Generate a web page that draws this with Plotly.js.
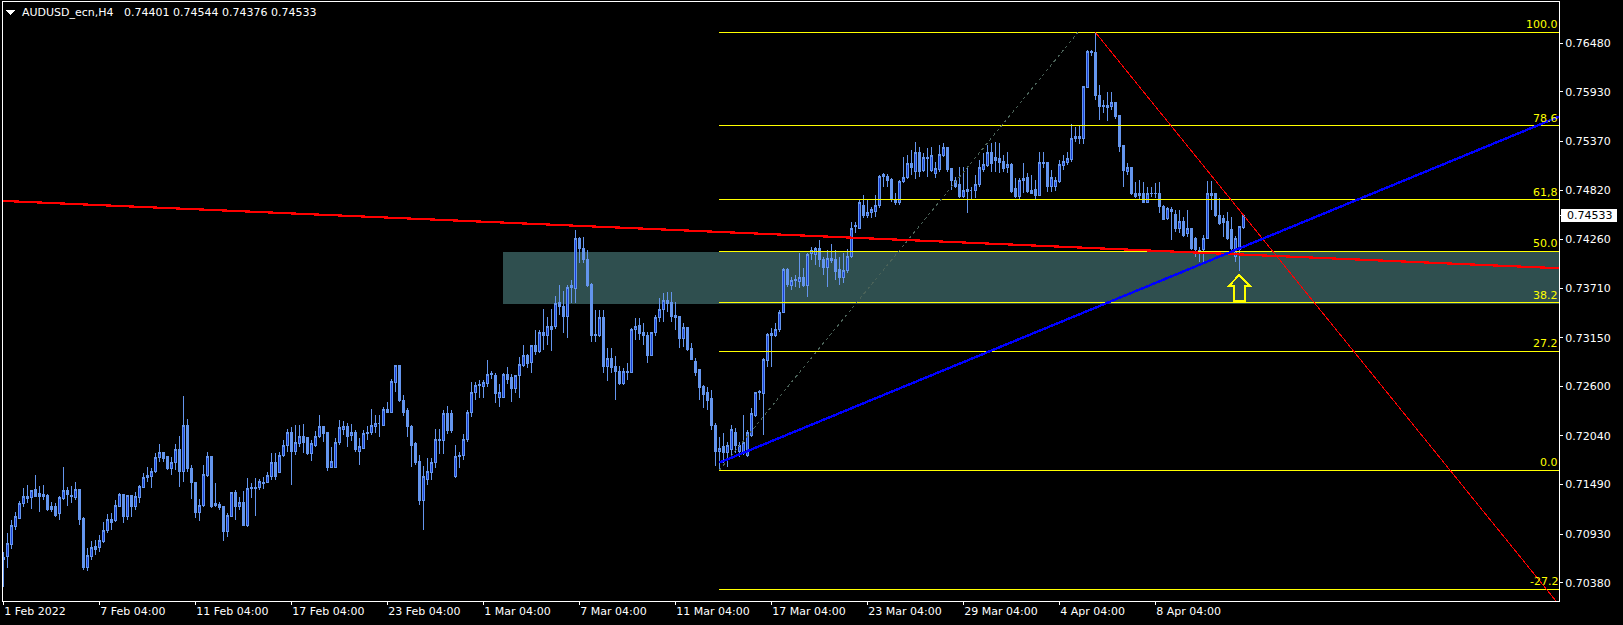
<!DOCTYPE html>
<html><head><meta charset="utf-8">
<script src="https://cdn.plot.ly/plotly-3.0.1.min.js"></script>
<style>html,body{margin:0;padding:0;background:#000;}#chart{width:1623px;height:625px;}
#chart .cartesianlayer path, #chart .layer-below path, #chart .layer-above path { shape-rendering: crispEdges; }
</style>
</head><body><div id="chart"></div>
<script>
const symbolTitle = "AUDUSD_ecn,H4";

const opens = [
0.70637,0.70671,0.70807,0.71021,0.71111,0.71281,0.71327,0.71339,0.71429,0.71384,
0.71372,0.71361,0.71247,0.71247,0.71157,0.71327,0.71418,0.71361,0.71339,0.71429,
0.71111,0.70547,0.70671,0.70784,0.70773,0.70841,0.70965,0.71100,0.71078,0.71247,
0.71372,0.71123,0.71361,0.71247,0.71339,0.71452,0.71587,0.71576,0.71632,0.71791,
0.71847,0.71802,0.71666,0.71734,0.71881,0.71632,0.72163,0.71666,0.71508,0.71179,
0.71258,0.71587,0.71802,0.71281,0.71270,0.71247,0.70954,0.71134,0.71395,0.71247,
0.71292,0.71032,0.71440,0.71452,0.71452,0.71508,0.71508,0.71576,0.71734,0.71621,
0.71813,0.71926,0.72073,0.71859,0.71949,0.72028,0.72017,0.71836,0.71937,0.72028,
0.72152,0.72073,0.71678,0.71678,0.71971,0.72118,0.72152,0.72050,0.72073,0.71859,
0.71903,0.72062,0.72073,0.72152,0.72186,0.72163,0.72344,0.72310,0.72639,0.72831,
0.72446,0.72333,0.72152,0.71949,0.71746,0.71315,0.71542,0.71621,0.71734,0.71983,
0.71983,0.72299,0.72288,0.71576,0.71802,0.71813,0.71994,0.72310,0.72526,0.72605,
0.72594,0.72628,0.72730,0.72718,0.72480,0.72480,0.72730,0.72696,0.72571,0.72718,
0.72831,0.72944,0.72865,0.73057,0.72990,0.73204,0.73170,0.73272,0.73272,0.73554,
0.73509,0.73385,0.73724,0.73702,0.74267,0.74154,0.74030,0.73747,0.73182,0.73170,
0.73374,0.72820,0.72911,0.72820,0.72763,0.72628,0.72763,0.72752,0.73249,0.73283,
0.73204,0.73170,0.72944,0.73204,0.73374,0.73475,0.73566,0.73554,0.73407,0.73385,
0.73136,0.73261,0.73023,0.72877,0.72786,0.72594,0.72526,0.72458,0.72163,0.71859,
0.71915,0.71847,0.71881,0.72084,0.71859,0.71847,0.71824,0.72050,0.72276,0.72526,
0.72514,0.72888,0.73170,0.73170,0.73238,0.73441,0.73917,0.73736,0.73792,0.73781,
0.73826,0.73736,0.74098,0.74086,0.74165,0.74030,0.73939,0.74041,0.74030,0.73917,
0.73826,0.73905,0.74064,0.74403,0.74391,0.74651,0.74527,0.74561,0.74583,0.74651,
0.74979,0.74979,0.74935,0.74708,0.74674,0.74912,0.74968,0.75116,0.75025,0.75240,
0.75036,0.75183,0.75036,0.75013,0.75048,0.75206,0.75296,0.75059,0.74923,0.74878,
0.74742,0.74822,0.74810,0.74810,0.74878,0.75048,0.75093,0.75240,0.75183,0.75172,
0.75138,0.75070,0.75104,0.74833,0.74753,0.74946,0.74957,0.74810,0.74822,0.74764,
0.75127,0.75127,0.74855,0.74855,0.74912,0.75093,0.75127,0.75161,0.75398,0.75409,
0.75409,0.75975,0.76371,0.76371,0.75895,0.75782,0.75749,0.75760,0.75816,0.75658,
0.75319,0.75025,0.75070,0.74787,0.74787,0.74787,0.74685,0.74787,0.74776,0.74787,
0.74629,0.74504,0.74606,0.74549,0.74380,0.74470,0.74324,0.74380,0.74278,0.74132,
0.74143,0.74278,0.74787,0.74776,0.74538,0.74504,0.74470,0.74369,0.74064,0.74143,
0.74401];

const highs = [
0.70727,0.70942,0.71089,0.71179,0.71304,0.71451,0.71486,0.71429,0.71599,0.71474,
0.71486,0.71384,0.71292,0.71281,0.71361,0.71689,0.71463,0.71474,0.71520,0.71440,
0.71123,0.70773,0.70852,0.70863,0.70920,0.71066,0.71157,0.71168,0.71315,0.71395,
0.71384,0.71372,0.71372,0.71406,0.71486,0.71621,0.71689,0.71678,0.71847,0.71949,
0.71859,0.71802,0.71802,0.71949,0.72039,0.72491,0.72231,0.71711,0.71520,0.71327,
0.71711,0.71859,0.71802,0.71508,0.71292,0.71247,0.71168,0.71406,0.71429,0.71350,
0.71418,0.71565,0.71508,0.71565,0.71553,0.71576,0.71632,0.71847,0.71847,0.71859,
0.71994,0.72118,0.72140,0.72163,0.72163,0.72175,0.72028,0.71994,0.72096,0.72276,
0.72152,0.72084,0.71915,0.72017,0.72220,0.72209,0.72186,0.72175,0.72107,0.72017,
0.72107,0.72152,0.72344,0.72276,0.72276,0.72367,0.72423,0.72684,0.72843,0.72843,
0.72503,0.72356,0.72163,0.71971,0.71824,0.71700,0.71791,0.71791,0.72118,0.72118,
0.72333,0.72378,0.72333,0.71937,0.71859,0.72062,0.72333,0.72650,0.72650,0.72673,
0.72673,0.72899,0.72775,0.72752,0.72628,0.72752,0.72820,0.72741,0.72730,0.72933,
0.73069,0.72967,0.73069,0.73238,0.73238,0.73475,0.73385,0.73475,0.73622,0.73747,
0.73679,0.73747,0.73804,0.74369,0.74290,0.74290,0.74143,0.73770,0.73464,0.73464,
0.73464,0.73035,0.73035,0.72944,0.72831,0.72809,0.72865,0.73261,0.73374,0.73374,
0.73317,0.73216,0.73216,0.73407,0.73600,0.73656,0.73668,0.73668,0.73554,0.73385,
0.73317,0.73272,0.73091,0.72922,0.72797,0.72616,0.72594,0.72560,0.72186,0.72028,
0.72073,0.71971,0.72163,0.72130,0.71971,0.72276,0.72107,0.72356,0.72537,0.72560,
0.72922,0.73204,0.73261,0.73317,0.73464,0.73939,0.73939,0.73838,0.73860,0.74109,
0.73939,0.74109,0.74177,0.74177,0.74256,0.74064,0.74143,0.74211,0.74143,0.74064,
0.74109,0.74154,0.74459,0.74459,0.74719,0.74764,0.74708,0.74629,0.74764,0.74991,
0.75013,0.75002,0.74957,0.74787,0.74935,0.75195,0.75217,0.75274,0.75364,0.75308,
0.75240,0.75296,0.75308,0.75138,0.75330,0.75353,0.75308,0.75070,0.74968,0.75081,
0.75081,0.75081,0.74855,0.74991,0.75161,0.75240,0.75330,0.75353,0.75364,0.75353,
0.75217,0.75251,0.75127,0.74957,0.74957,0.75127,0.75013,0.74991,0.74935,0.75251,
0.75251,0.75138,0.75048,0.74968,0.75161,0.75217,0.75251,0.75567,0.75534,0.75556,
0.75997,0.76405,0.76405,0.76605,0.76009,0.75839,0.75929,0.75929,0.75816,0.75669,
0.75330,0.75127,0.75081,0.74912,0.74935,0.74912,0.74855,0.74855,0.74900,0.74912,
0.74651,0.74629,0.74629,0.74595,0.74595,0.74516,0.74595,0.74380,0.74290,0.74177,
0.74312,0.74923,0.74923,0.74787,0.74731,0.74538,0.74572,0.74516,0.74301,0.74403,
0.74544];

const lows = [
0.70332,0.70547,0.70761,0.70976,0.71100,0.71236,0.71281,0.71213,0.71350,0.71179,
0.71315,0.71191,0.71179,0.71123,0.71089,0.71315,0.71247,0.71281,0.71315,0.71032,
0.70524,0.70513,0.70637,0.70693,0.70727,0.70829,0.70942,0.70976,0.71066,0.71236,
0.71055,0.71089,0.71123,0.71202,0.71281,0.71452,0.71520,0.71452,0.71621,0.71746,
0.71746,0.71655,0.71599,0.71655,0.71463,0.71520,0.71632,0.71327,0.71111,0.71078,
0.71236,0.71576,0.71225,0.71236,0.71202,0.70852,0.70897,0.71123,0.71089,0.71202,
0.71032,0.71010,0.71339,0.71134,0.71429,0.71440,0.71508,0.71542,0.71542,0.71621,
0.71802,0.71859,0.71486,0.71824,0.71915,0.71847,0.71824,0.71757,0.71915,0.72017,
0.71971,0.71644,0.71678,0.71678,0.71937,0.72050,0.71915,0.71983,0.71859,0.71711,
0.71903,0.71994,0.72050,0.72073,0.72028,0.72163,0.72299,0.72299,0.72537,0.72423,
0.72265,0.72028,0.71689,0.71711,0.71258,0.70976,0.71486,0.71542,0.71678,0.71836,
0.71836,0.72062,0.72073,0.71565,0.71678,0.71768,0.71971,0.72254,0.72446,0.72469,
0.72469,0.72594,0.72684,0.72412,0.72367,0.72469,0.72628,0.72423,0.72526,0.72469,
0.72820,0.72809,0.72752,0.72956,0.72978,0.73012,0.73069,0.73001,0.73249,0.73407,
0.73204,0.73148,0.73543,0.73543,0.73996,0.73996,0.73724,0.73103,0.73103,0.73159,
0.72752,0.72662,0.72752,0.72446,0.72616,0.72616,0.72673,0.72752,0.73125,0.73125,
0.73069,0.72865,0.72944,0.73170,0.73328,0.73328,0.73441,0.73328,0.73238,0.73035,
0.73046,0.73001,0.72899,0.72718,0.72446,0.72356,0.72333,0.72107,0.71700,0.71651,
0.71734,0.71689,0.71802,0.71847,0.71802,0.71824,0.71802,0.72028,0.72254,0.72446,
0.72050,0.72820,0.72820,0.73159,0.73216,0.73430,0.73724,0.73691,0.73724,0.73713,
0.73724,0.73611,0.74030,0.73973,0.73951,0.73860,0.73724,0.73996,0.73804,0.73747,
0.73770,0.73883,0.74052,0.74335,0.74380,0.74504,0.74504,0.74504,0.74516,0.74617,
0.74855,0.74855,0.74685,0.74651,0.74651,0.74900,0.74946,0.74991,0.74946,0.74968,
0.75025,0.74968,0.75025,0.74957,0.75025,0.75195,0.75025,0.74822,0.74844,0.74731,
0.74731,0.74561,0.74708,0.74731,0.74855,0.75025,0.75081,0.75025,0.75025,0.75013,
0.75025,0.75013,0.74787,0.74731,0.74708,0.74787,0.74787,0.74776,0.74708,0.74753,
0.75070,0.74799,0.74799,0.74810,0.74900,0.75048,0.75104,0.75138,0.75364,0.75342,
0.75342,0.75975,0.76337,0.75839,0.75613,0.75692,0.75601,0.75726,0.75624,0.75251,
0.74855,0.74991,0.74764,0.74731,0.74708,0.74674,0.74674,0.74742,0.74731,0.74561,
0.74482,0.74482,0.74256,0.74346,0.74335,0.74290,0.74290,0.74143,0.74064,0.74007,
0.74007,0.74278,0.74595,0.74516,0.74425,0.74290,0.74256,0.74143,0.74007,0.73905,
0.74376];

const closes = [
0.70660,0.70818,0.71032,0.71123,0.71281,0.71350,0.71350,0.71418,0.71350,0.71350,
0.71350,0.71213,0.71213,0.71145,0.71339,0.71418,0.71372,0.71350,0.71429,0.71100,
0.70547,0.70682,0.70773,0.70750,0.70852,0.70965,0.71100,0.71066,0.71258,0.71372,
0.71123,0.71361,0.71247,0.71350,0.71463,0.71565,0.71565,0.71632,0.71791,0.71847,
0.71779,0.71666,0.71734,0.71881,0.71632,0.72163,0.71666,0.71508,0.71179,0.71258,
0.71599,0.71802,0.71247,0.71258,0.71225,0.70954,0.71145,0.71395,0.71247,0.71292,
0.71032,0.71440,0.71452,0.71440,0.71520,0.71497,0.71587,0.71734,0.71576,0.71824,
0.71937,0.72073,0.71859,0.71960,0.72028,0.71960,0.71836,0.71949,0.72028,0.72152,
0.72062,0.71678,0.71746,0.71971,0.72130,0.72152,0.72039,0.72073,0.71881,0.71915,
0.72062,0.72084,0.72163,0.72186,0.72186,0.72344,0.72310,0.72650,0.72831,0.72435,
0.72310,0.72141,0.71937,0.71734,0.71315,0.71576,0.71632,0.71734,0.71994,0.71994,
0.72299,0.72096,0.72096,0.71802,0.71824,0.72005,0.72310,0.72526,0.72605,0.72616,
0.72639,0.72730,0.72741,0.72514,0.72526,0.72730,0.72673,0.72571,0.72718,0.72843,
0.72944,0.72854,0.73057,0.72990,0.73204,0.73170,0.73272,0.73249,0.73543,0.73498,
0.73385,0.73724,0.73736,0.74267,0.74154,0.74030,0.73736,0.73170,0.73170,0.73374,
0.72820,0.72911,0.72809,0.72763,0.72628,0.72763,0.72752,0.73249,0.73272,0.73193,
0.73170,0.72944,0.73204,0.73374,0.73475,0.73566,0.73543,0.73396,0.73374,0.73136,
0.73261,0.73012,0.72899,0.72752,0.72582,0.72503,0.72446,0.72163,0.71859,0.71903,
0.71847,0.71926,0.72107,0.71937,0.71926,0.71971,0.72073,0.72299,0.72526,0.72537,
0.72899,0.73182,0.73193,0.73238,0.73441,0.73917,0.73747,0.73792,0.73804,0.73826,
0.73736,0.74086,0.74132,0.74165,0.74030,0.73939,0.74041,0.74019,0.73894,0.73826,
0.73905,0.74064,0.74391,0.74414,0.74674,0.74527,0.74572,0.74595,0.74651,0.74979,
0.74991,0.74923,0.74708,0.74674,0.74912,0.74968,0.75116,0.75070,0.75240,0.75025,
0.75183,0.75172,0.75206,0.75059,0.75217,0.75296,0.75048,0.74923,0.74866,0.74742,
0.74810,0.74799,0.74810,0.74878,0.75070,0.75104,0.75240,0.75116,0.75149,0.75127,
0.75059,0.75104,0.74799,0.74753,0.74923,0.74923,0.74799,0.74787,0.74764,0.75127,
0.75116,0.74855,0.74968,0.74923,0.75104,0.75138,0.75172,0.75398,0.75421,0.75421,
0.75986,0.76382,0.76382,0.75895,0.75760,0.75760,0.75782,0.75816,0.75647,0.75308,
0.75036,0.75070,0.74787,0.74753,0.74764,0.74685,0.74787,0.74776,0.74787,0.74629,
0.74493,0.74617,0.74583,0.74380,0.74470,0.74312,0.74380,0.74165,0.74143,0.74109,
0.74278,0.74787,0.74764,0.74538,0.74437,0.74448,0.74278,0.74154,0.74278,0.74403,
0.74533];

const tickBars = [0, 24, 48, 72, 96, 120, 144, 168, 192, 216, 240, 264, 288];
const tickLabels = ["1 Feb 2022","7 Feb 04:00","11 Feb 04:00","17 Feb 04:00","23 Feb 04:00",
  "1 Mar 04:00","7 Mar 04:00","11 Mar 04:00","17 Mar 04:00","23 Mar 04:00","29 Mar 04:00",
  "4 Apr 04:00","8 Apr 04:00"];
const priceTicks = ["0.76480","0.75930","0.75370","0.74820","0.74260","0.73710",
  "0.73150","0.72600","0.72040","0.71490","0.70930","0.70380"];

// Fibonacci retracement (anchors: low bar/price, high bar/price)
const fibLowBar = 179, fibLowPrice = 0.71651;
const fibHighBar = 268.7, fibHighPrice = 0.76605;
const fibLevels = [100, 78.6, 61.8, 50, 38.2, 27.2, 0, -27.2];
const fibLabels = ["100.0","78.6","61,8","50.0","38.2","27.2","0.0","-27.2"];

// Trend lines (two anchor points each: bar index, price)
const redTrendBars = [-1, 389];       const redTrendPrices = [0.74699, 0.73936];
const blueTrendBars = [179, 389];     const blueTrendPrices = [0.71737, 0.75652];
const redThinBars = [273, 389];       const redThinPrices = [0.76605, 0.70127];

// Support zone rectangle
const zoneStartBar = 124.9, zoneTop = 0.74120, zoneBottom = 0.73535;
// Marker arrow
const arrowBar = 309, arrowPrice = 0.73860;

const xMin = -0.08, xMax = 388.93;
const yMin = 0.70173, yMax = 0.76947;

const bars = opens.map((_, i) => i);
const last = opens.length - 1;
const FONT = "DejaVu Sans, Tahoma, sans-serif";

const traces = [];
traces.push({
  type: 'candlestick', x: bars, open: opens, high: highs, low: lows, close: closes,
  increasing: {line: {color: '#6495ED', width: 1}, fillcolor: '#1840d8'},
  decreasing: {line: {color: '#6495ED', width: 1}, fillcolor: '#6495ED'},
  whiskerwidth: 0, hoverinfo: 'skip', showlegend: false
});

const fibRange = fibHighPrice - fibLowPrice;
const fibPrices = fibLevels.map(l => fibLowPrice + l / 100 * fibRange);
fibPrices.forEach(p => {
  traces.push({type: 'scatter', mode: 'lines', x: [fibLowBar, xMax], y: [p, p],
    line: {color: '#FFFF00', width: 1}, hoverinfo: 'skip', showlegend: false});
});
traces.push({type: 'scatter', mode: 'lines', x: [fibLowBar, fibHighBar], y: [fibLowPrice, fibHighPrice],
  line: {color: '#4a6258', width: 1, dash: 'dot'}, hoverinfo: 'skip', showlegend: false});
traces.push({type: 'scatter', mode: 'lines', x: redThinBars, y: redThinPrices,
  line: {color: '#FF0000', width: 1}, hoverinfo: 'skip', showlegend: false});
traces.push({type: 'scatter', mode: 'lines', x: redTrendBars, y: redTrendPrices,
  line: {color: '#FF0000', width: 2.2}, hoverinfo: 'skip', showlegend: false});
traces.push({type: 'scatter', mode: 'lines', x: blueTrendBars, y: blueTrendPrices,
  line: {color: '#0000FF', width: 2.4}, hoverinfo: 'skip', showlegend: false});

const annotations = [];
fibLabels.forEach((t, k) => {
  annotations.push({xref: 'paper', x: 1, xanchor: 'right', yref: 'y', y: fibPrices[k], yanchor: 'bottom',
    text: t, showarrow: false, font: {family: FONT, size: 11, color: '#FFFF00'}, borderpad: 0});
});
annotations.push({xref: 'paper', x: 0.0115, xanchor: 'left', yref: 'paper', y: 0.9825, yanchor: 'middle',
  text: symbolTitle, showarrow: false, font: {family: FONT, size: 11, color: '#FFFFFF'}, borderpad: 0});
annotations.push({xref: 'paper', x: 0.0768, xanchor: 'left', yref: 'paper', y: 0.9825, yanchor: 'middle',
  text: [opens[last], highs[last], lows[last], closes[last]].map(v => v.toFixed(5)).join(' '),
  showarrow: false, font: {family: FONT, size: 11, color: '#FFFFFF'}, borderpad: 0});
annotations.push({xref: 'paper', x: 1.0045, xanchor: 'left', yref: 'y', y: closes[last], yanchor: 'middle',
  text: closes[last].toFixed(5), showarrow: false, font: {family: FONT, size: 11, color: '#000000'}, borderpad: 0});

const shapes = [
  {type: 'rect', layer: 'below', xref: 'x', yref: 'y', x0: zoneStartBar, x1: xMax, y0: zoneBottom, y1: zoneTop,
   fillcolor: '#2F4F4F', line: {width: 0}},
  {type: 'rect', xref: 'paper', x0: 1.0013, x1: 1.0373, yref: 'y', ysizemode: 'pixel', yanchor: closes[last],
   y0: -6.5, y1: 6.5, fillcolor: '#FFFFFF', line: {width: 0}, layer: 'below'},
  {type: 'line', xref: 'paper', x0: 1, x1: 1.0026, yref: 'y', y0: closes[last], y1: closes[last],
   line: {color: '#FFFFFF', width: 1}},
  {type: 'path', xref: 'x', yref: 'y', xsizemode: 'pixel', ysizemode: 'pixel', xanchor: arrowBar, yanchor: arrowPrice,
   path: 'M0,0 L10.5,-11 L5.5,-11 L5.5,-26 L-5.5,-26 L-5.5,-11 L-10.5,-11 Z',
   line: {color: '#FFFF00', width: 2}, fillcolor: 'rgba(0,0,0,0)'},
  {type: 'path', xref: 'paper', yref: 'paper', xsizemode: 'pixel', ysizemode: 'pixel', xanchor: 0, yanchor: 1,
   path: 'M3,-8 L12,-8 L7.5,-13 Z', line: {width: 0}, fillcolor: '#FFFFFF'}
];

const layout = {
  width: 1623, height: 625,
  margin: {l: 3, r: 64, t: 2, b: 24, pad: 0},
  paper_bgcolor: '#000000', plot_bgcolor: '#000000',
  showlegend: false, hovermode: false,
  font: {family: FONT, size: 11, color: '#FFFFFF'},
  xaxis: {
    range: [xMin, xMax], showgrid: false, zeroline: false,
    showline: true, mirror: true, linecolor: '#FFFFFF', linewidth: 1,
    ticks: 'outside', ticklen: 3, tickcolor: '#FFFFFF',
    tickvals: tickBars, ticktext: tickLabels, ticklabelposition: 'outside right',
    tickfont: {family: FONT, size: 11, color: '#FFFFFF'},
    rangeslider: {visible: false}, fixedrange: true
  },
  yaxis: {
    side: 'right', range: [yMin, yMax], showgrid: false, zeroline: false,
    showline: true, mirror: true, linecolor: '#FFFFFF', linewidth: 1,
    ticks: 'outside', ticklen: 3, tickcolor: '#FFFFFF',
    tickvals: priceTicks.map(Number), ticktext: priceTicks,
    tickfont: {family: FONT, size: 11, color: '#FFFFFF'}, fixedrange: true
  },
  annotations: annotations,
  shapes: shapes
};

Plotly.newPlot('chart', traces, layout, {staticPlot: true, displayModeBar: false});
</script>
</body></html>
